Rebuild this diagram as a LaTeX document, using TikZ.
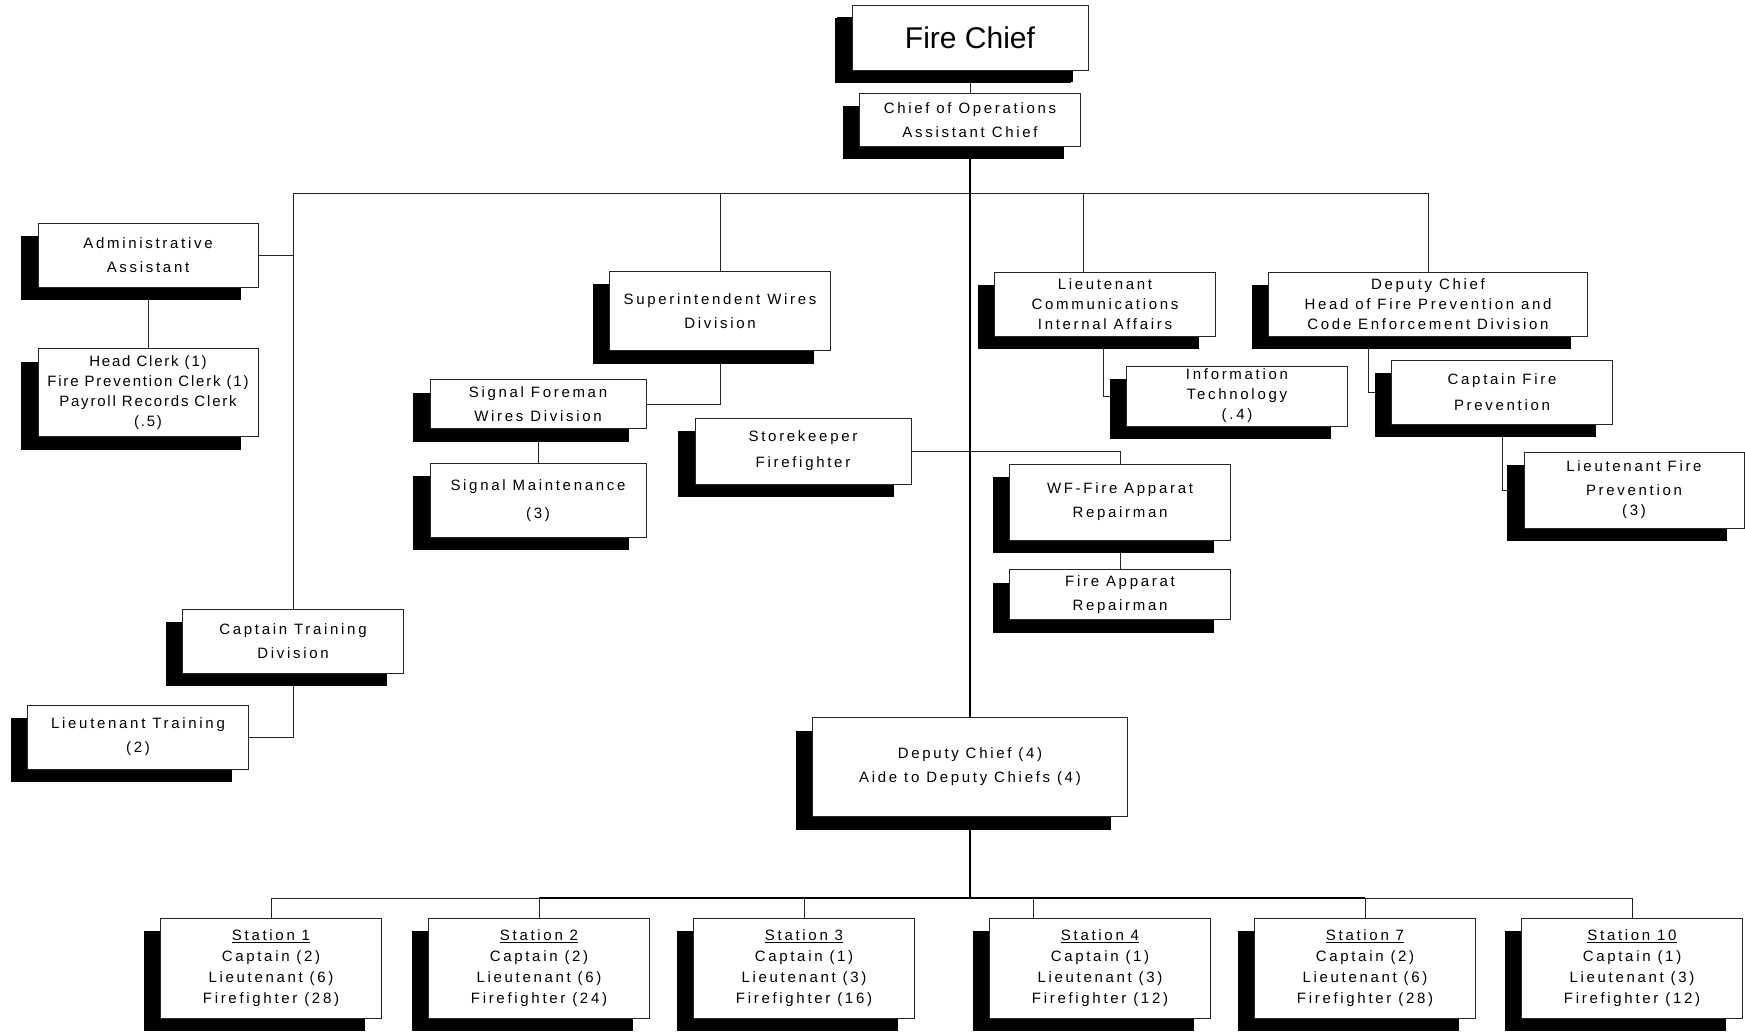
\documentclass[tikz,border=0pt]{standalone}
\usepackage{fontspec}
\setmainfont{Liberation Sans}
\newfontfamily\chartfont[LetterSpace=18]{Liberation Sans}
\newfontfamily\clerkfont[LetterSpace=12]{Liberation Sans}
\usetikzlibrary{positioning,shadows,backgrounds}

\begin{document}
\begin{tikzpicture}[x=1pt, y=-1pt,
        post/.style={draw=black!85, line width=.9pt, fill=white, align=center, inner sep=0pt,
          font=\chartfont\fontsize{15pt}{24pt}\selectfont,
          minimum width=221pt, minimum height=64pt,
          drop shadow={shadow xshift=-17pt, shadow yshift=-13pt, fill=black, opacity=1}},
        tight/.style={font=\chartfont\fontsize{15pt}{20pt}\selectfont},
        link/.style={draw=black!85, line width=.9pt},
        trunk/.style={draw=black, line width=2pt}
      ]
      \useasboundingbox (0,0) rectangle (1745,1032);
      \begin{scope}[on background layer]
        \fill[white] (0,0) rectangle (1745,1032);
      \end{scope}

      \node [post, minimum width=236pt, minimum height=65pt, font=\rmfamily\fontsize{30pt}{36pt}\selectfont,
        drop shadow={shadow xshift=-15pt, shadow yshift=-12pt, fill=black, opacity=1}] (chief) at (970,38) {Fire Chief};
      \node [post, minimum height=53pt] (ops) at (970,120) {Chief of Operations\\Assistant Chief};

      \node [post, minimum width=220pt] (admin) at (148,255) {Administrative\\Assistant};
      \node [post, minimum width=220pt, minimum height=88pt, below=61pt of admin,
        font=\clerkfont\fontsize{15pt}{20pt}\selectfont] (clerk) {Head Clerk (1)\\Fire Prevention Clerk (1)\\Payroll Records Clerk\\(.5)};
      \node [post] (traincapt) at (293,641) {Captain Training\\Division};
      \node [post] (trainlt) at (138,737) {Lieutenant Training\\(2)};

      \node [post, minimum height=79pt] (wires) at (720,311) {Superintendent Wires\\Division};
      \node [post, minimum width=216pt, minimum height=49pt] (foreman) at (538,404) {Signal Foreman\\Wires Division};
      \node [post, minimum width=216pt, minimum height=74pt, below=34pt of foreman] (maint) {Signal Maintenance\\[4pt](3)};
      \node [post, minimum width=216pt, minimum height=66pt] (store) at (803,451) {Storekeeper\\[2pt]Firefighter};

      \node [post, tight] (comms) at (1105,304) {Lieutenant\\Communications\\Internal Affairs};
      \node [post, tight, minimum height=60pt] (infotech) at (1237,396) {Information\\Technology\\(.4)};
      \node [post, minimum height=76pt] (wfrep) at (1120,502) {WF-Fire Apparat\\Repairman};
      \node [post, minimum height=50pt, below=29pt of wfrep] (apprep) {Fire Apparat\\Repairman};

      \node [post, tight, minimum width=319pt] (prevhead) at (1428,304) {Deputy Chief\\Head of Fire Prevention and\\Code Enforcement Division};
      \node [post] (prevcapt) at (1502,392) {Captain Fire\\[2pt]Prevention};
      \node [post, tight, minimum width=220pt, minimum height=76pt] (prevlt) at (1634,490) {Lieutenant Fire\\[4pt]Prevention\\(3)};

      \node [post, minimum width=315pt, minimum height=99pt] (deputies) at (970,767) {Deputy Chief (4)\\Aide to Deputy Chiefs (4)};

      \foreach \n/\x/\c/\l/\f in {1/271/2/6/28, 2/539/2/6/24, 3/804/1/3/16, 4/1100/1/3/12, 7/1365/2/6/28, 10/1632/1/3/12}
        \node [post, minimum height=100pt, font=\chartfont\fontsize{15pt}{21pt}\selectfont] (st\n) at (\x,968) {\underline{Station \n}\\Captain (\c)\\Lieutenant (\l)\\Firefighter (\f)};

      \begin{scope}[on background layer]
        \coordinate (bus) at (0,193);
        \coordinate (sbus) at (0,898);
        \path (chief) edge[link] (ops);
        \path (ops) edge[trunk] (deputies);
        \draw[trunk] (deputies.south) -- (deputies.south |- sbus);

        \draw[link] (traincapt.north) -- (traincapt.north |- bus) -- (prevhead.north |- bus) -- (prevhead.north);
        \draw[link] (wires.north) -- (wires.north |- bus);
        \draw[link] ([xshift=-22pt]comms.north) -- ([xshift=-22pt]comms.north |- bus);

        \draw[link] (admin.east) -- (admin.east -| traincapt.north);
        \path (admin) edge[link] (clerk);
        \draw[link] (traincapt.south) |- (trainlt.east);

        \draw[link] (wires.south) |- (foreman.east);
        \path (foreman) edge[link] (maint);
        \draw[link] (store.east) -| (wfrep.north);
        \path (wfrep) edge[link] (apprep);

        \draw[link] ([xshift=-2pt]comms.south) |- (infotech.west);
        \draw[link] ([xshift=-60pt]prevhead.south) |- (prevcapt.west);
        \draw[link] (prevcapt.south) |- (prevlt.west);

        \foreach \n in {1,2,3,7,10}
          \draw[link] (st\n.north) -- (st\n.north |- sbus);
        \draw[link] ([xshift=-67pt]st4.north) -- ([xshift=-67pt]st4.north |- sbus);
        \draw[link] (st1.north |- sbus) -- (st2.north |- sbus);
        \draw[trunk] (st2.north |- sbus) -- (st7.north |- sbus);
        \draw[link] (st7.north |- sbus) -- (st10.north |- sbus);
      \end{scope}
    \end{tikzpicture}
\end{document}
